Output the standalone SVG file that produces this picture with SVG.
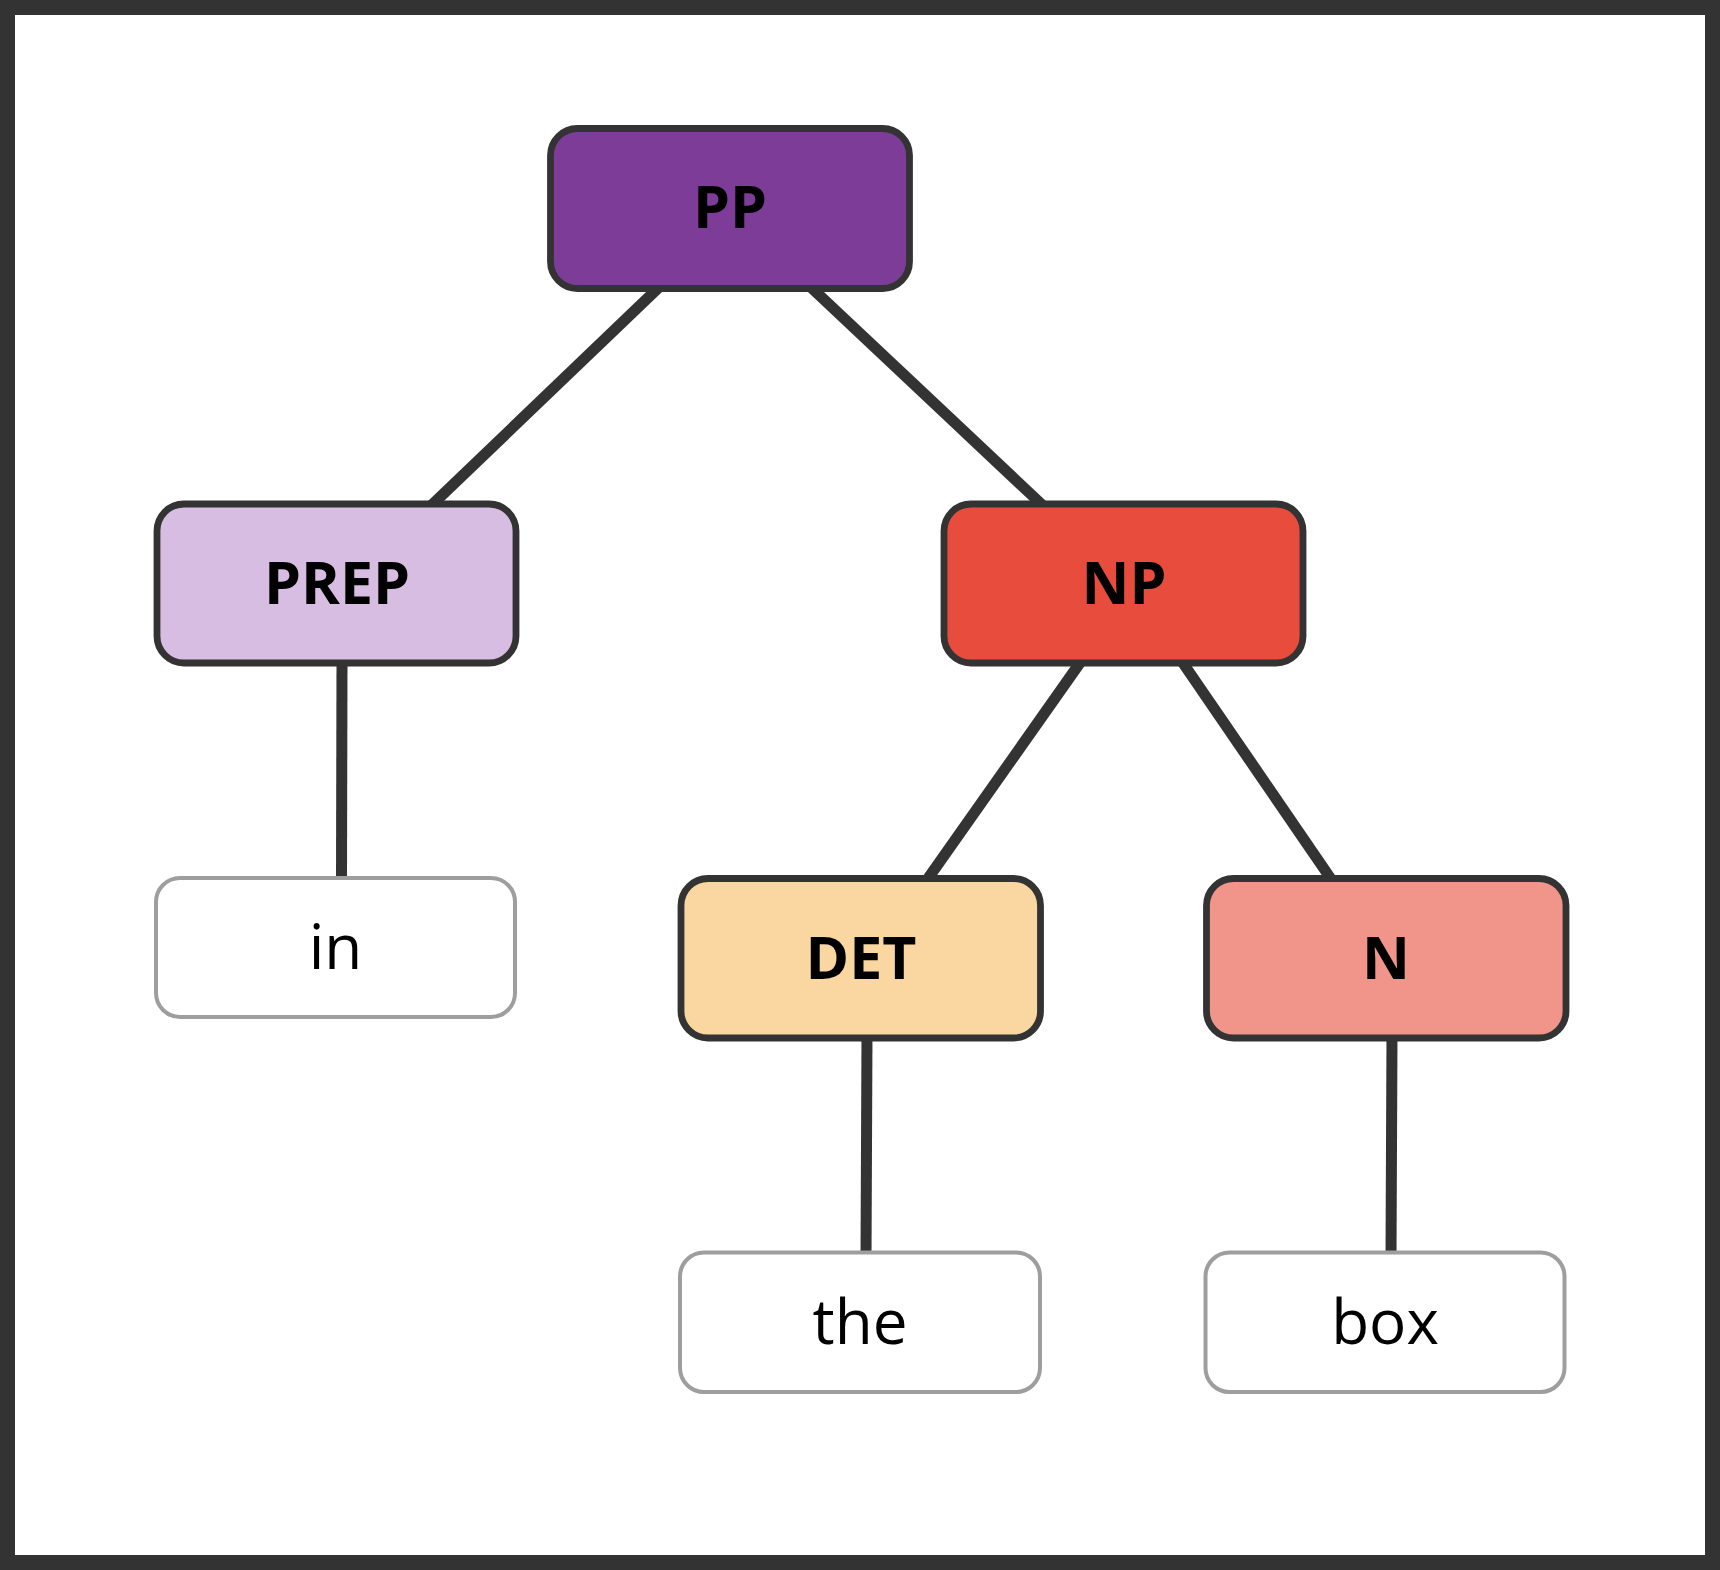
<svg xmlns="http://www.w3.org/2000/svg" width="1720" height="1570" viewBox="0 0 1720 1570">
  <style>
    .frame { fill: #ffffff; stroke: #333333; stroke-width: 15; }
    .edge { stroke: #333333; stroke-width: 11; fill: none; }
    .phrase { stroke: #333333; stroke-width: 6.8; }
    .leaf { fill: #ffffff; stroke: #9e9e9e; stroke-width: 4; }
    .lab { font-family: "Open Sans", "Noto Sans", "Liberation Sans", sans-serif; font-weight: 700; font-size: 59px; fill: #000000; text-anchor: middle; }
    .word { font-family: "Open Sans", "Noto Sans", "Liberation Sans", sans-serif; font-weight: 400; font-size: 62px; fill: #000000; text-anchor: middle; }
  </style>
  <rect class="frame" x="7.5" y="7.5" width="1705" height="1555"/>
  <g id="connectors">
    <line class="edge" x1="660.3" y1="286" x2="429.7" y2="507"/>
    <line class="edge" x1="809.6" y1="286" x2="1044.4" y2="507"/>
    <line class="edge" x1="342" y1="660" x2="341.5" y2="882"/>
    <line class="edge" x1="1082" y1="660" x2="925.5" y2="882"/>
    <line class="edge" x1="1180.9" y1="660" x2="1333.1" y2="882"/>
    <line class="edge" x1="867" y1="1034" x2="866" y2="1256"/>
    <line class="edge" x1="1392" y1="1034" x2="1391" y2="1256"/>
  </g>
  <g id="node-pp">
    <rect class="phrase" x="550.5" y="128.5" width="359" height="160" rx="27" fill="#7D3C98"/>
    <text class="lab" x="730" y="228">PP</text>
  </g>
  <g id="node-prep">
    <rect class="phrase" x="157" y="504" width="359" height="159" rx="27" fill="#D7BDE2"/>
    <text class="lab" x="337" y="604">PREP</text>
  </g>
  <g id="node-np">
    <rect class="phrase" x="944" y="504" width="359" height="159" rx="27" fill="#E74C3C"/>
    <text class="lab" x="1124" y="604">NP</text>
  </g>
  <g id="node-det">
    <rect class="phrase" x="681" y="878.5" width="359.5" height="159.5" rx="27" fill="#FAD7A0"/>
    <text class="lab" x="861" y="978.5">DET</text>
  </g>
  <g id="node-n">
    <rect class="phrase" x="1206.5" y="878.5" width="359.5" height="159.5" rx="27" fill="#F1948A"/>
    <text class="lab" x="1386" y="978.5">N</text>
  </g>
  <g id="node-in">
    <rect class="leaf" x="156" y="878" width="359" height="139" rx="24"/>
    <text class="word" x="335.5" y="968.5">in</text>
  </g>
  <g id="node-the">
    <rect class="leaf" x="680" y="1252.5" width="360" height="139.5" rx="24"/>
    <text class="word" x="860" y="1343.5">the</text>
  </g>
  <g id="node-box">
    <rect class="leaf" x="1205.5" y="1252.5" width="359" height="139.5" rx="24"/>
    <text class="word" x="1385" y="1343.5">box</text>
  </g>
</svg>
